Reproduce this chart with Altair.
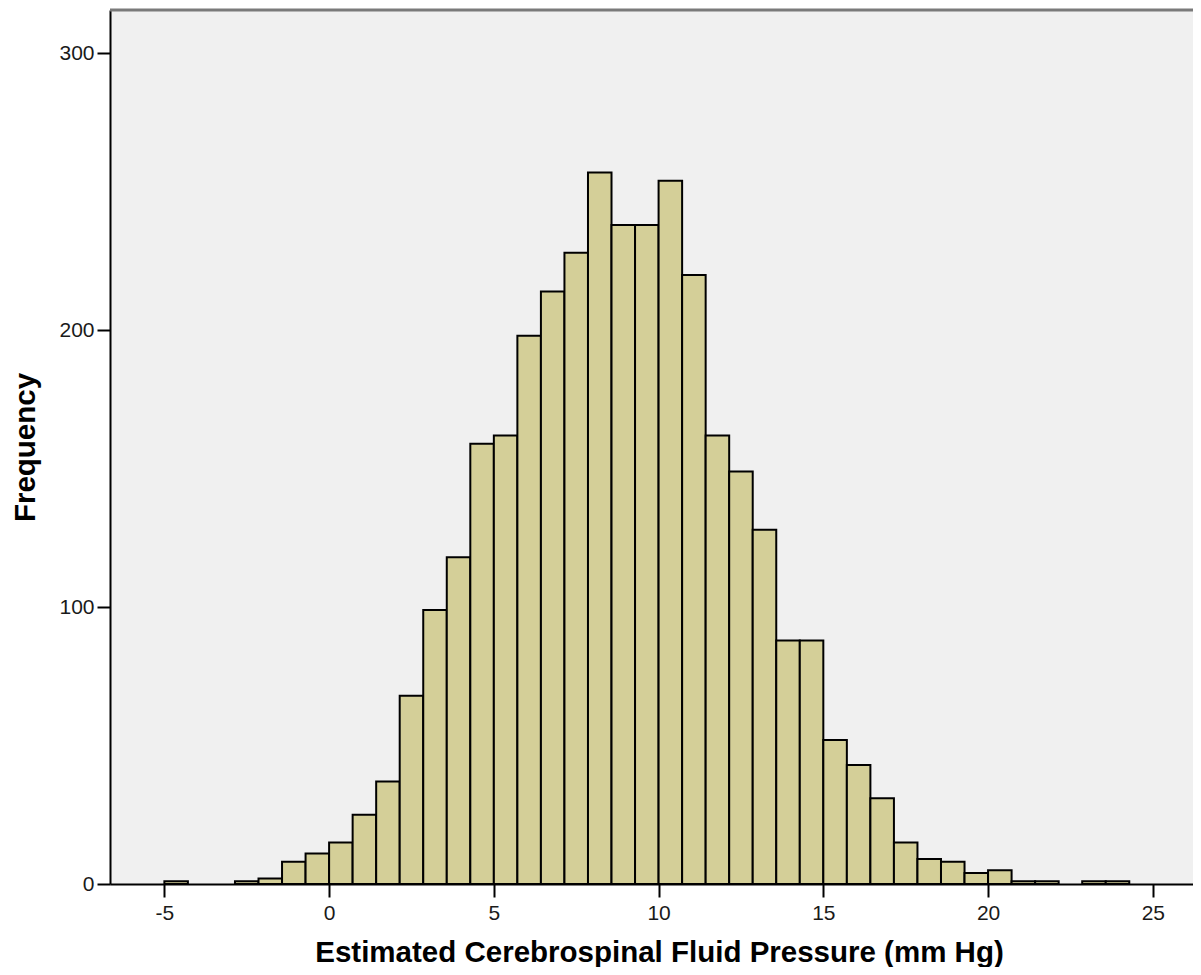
import altair as alt
import pandas as pd

# Histogram of estimated CSF pressure (SPSS style)
bin_start = -5.0          # left edge of the first bin
bin_width = 5.0 / 7.0     # width of each bin (mm Hg)
counts = [1, 0, 0, 1, 2, 8, 11, 15, 25, 37, 68, 99, 118, 159, 162, 198, 214, 228,
          257, 238, 238, 254, 220, 162, 149, 128, 88, 88, 52, 43, 31, 15, 9, 8, 4,
          5, 1, 1, 0, 1, 1]
x_ticks = [-5, 0, 5, 10, 15, 20, 25]
y_ticks = [0, 100, 200, 300]
x_domain = [-6.65, 26.22]
y_domain = [0, 315.7]
x_title = "Estimated Cerebrospinal Fluid Pressure (mm Hg)"
y_title = "Frequency"

rows = []
for i, c in enumerate(counts):
    if c > 0:
        lo = bin_start + i * bin_width
        rows.append({"lo": lo, "hi": lo + bin_width, "count": c})
df = pd.DataFrame(rows)

W, H = 1083, 874
FONT = "Liberation Sans"

bars = alt.Chart(df).mark_bar(
    fill="#d4cf98", stroke="#000000", strokeWidth=2
).encode(
    x=alt.X("lo:Q",
            scale=alt.Scale(domain=x_domain, nice=False, zero=False),
            axis=alt.Axis(values=x_ticks, title=x_title, grid=False,
                          labelExpr="'' + datum.value",
                          domainColor="#000000", domainWidth=2,
                          tickColor="#000000", tickWidth=2, tickSize=13,
                          labelFont=FONT, labelFontSize=21, labelColor="#1a1a1a",
                          labelPadding=5,
                          titleFont=FONT, titleFontSize=29.5, titleFontWeight="bold",
                          titleColor="#000000", titleBaseline="alphabetic",
                          titleX=549, titleY=77)),
    x2="hi:Q",
    y=alt.Y("count:Q",
            scale=alt.Scale(domain=y_domain, nice=False),
            axis=alt.Axis(values=y_ticks, title=y_title, grid=False,
                          domainColor="#000000", domainWidth=2,
                          tickColor="#000000", tickWidth=2, tickSize=13,
                          labelFont=FONT, labelFontSize=21, labelColor="#1a1a1a",
                          labelPadding=3,
                          titleFont=FONT, titleFontSize=29.5, titleFontWeight="bold",
                          titleColor="#000000", titleBaseline="alphabetic",
                          titleX=-76, titleY=437)),
    y2=alt.datum(0),
)

border = alt.Chart(pd.DataFrame({"a": [0]})).mark_rule(
    color="#7a7a7a", strokeWidth=3
).encode(x=alt.value(0), x2=alt.value(W), y=alt.value(0))

chart = alt.layer(bars, border).properties(
    width=W, height=H,
    padding={"left": 102, "top": 2, "right": 0, "bottom": 83},
    autosize=alt.AutoSizeParams(type="none"),
).configure_view(fill="#f0f0f0", strokeWidth=0)

chart.save("out.html", embed_options={"renderer": "svg", "actions": False})
